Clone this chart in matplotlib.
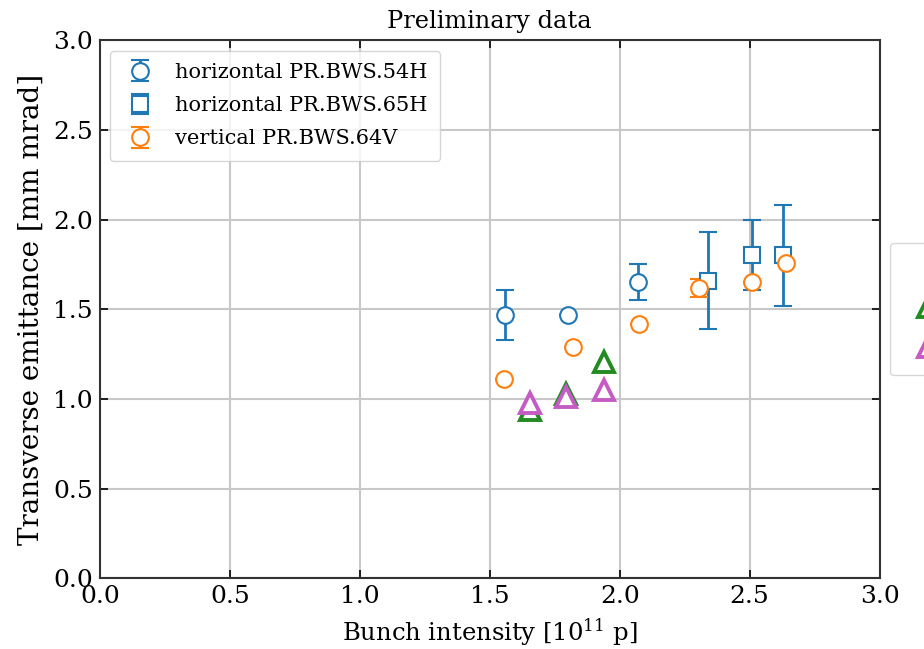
import matplotlib
matplotlib.use('Agg')
import matplotlib.pyplot as plt

plt.rcParams['font.family'] = 'DejaVu Serif'
plt.rcParams['mathtext.fontset'] = 'dejavuserif'
plt.rcParams['font.size'] = 15

# horizontal PR.BWS.54H
x_54h = [1.56, 1.80, 2.07]
eps_54h = [1.47, 1.47, 1.65]
err_54h = [0.14, 0.0, 0.10]

# horizontal PR.BWS.65H
x_65h = [2.34, 2.51, 2.63]
eps_65h = [1.66, 1.80, 1.80]
err_65h = [0.27, 0.195, 0.28]

# vertical PR.BWS.64V
x_64v = [1.555, 1.82, 2.075, 2.305, 2.51, 2.64]
eps_64v = [1.11, 1.29, 1.415, 1.62, 1.65, 1.76]
err_64v = [0.0, 0.0, 0.0, 0.05, 0.0, 0.0]

# triangles (their legend sits outside the frame)
x_tri = [1.655, 1.795, 1.94]
eps_green = [0.94, 1.03, 1.205]
eps_magenta = [0.98, 1.01, 1.05]

blue = '#1f77b4'
orange = '#ff7f0e'

fig = plt.figure(figsize=(9.24, 6.49), dpi=100)
ax = fig.add_axes([0.108, 0.109, 0.844, 0.829])

ax.errorbar(x_54h, eps_54h, yerr=err_54h, fmt='o', color=blue, mfc='white',
            ms=12, mew=1.5, elinewidth=2, capsize=6.5, capthick=2,
            label='horizontal PR.BWS.54H')
ax.errorbar(x_65h, eps_65h, yerr=err_65h, fmt='s', color=blue, mfc='white',
            ms=12, mew=1.5, elinewidth=2, capsize=6.5, capthick=2,
            label='horizontal PR.BWS.65H')
ax.errorbar(x_64v, eps_64v, yerr=err_64v, fmt='o', color=orange, mfc='white',
            ms=12, mew=1.5, elinewidth=2, capsize=6.5, capthick=2,
            label='vertical PR.BWS.64V')

l1, = ax.plot(x_tri, eps_green, '^', color='#228b22', mfc='white', ms=15, mew=2.8)
l2, = ax.plot(x_tri, eps_magenta, '^', color='#c45cc4', mfc='white', ms=15, mew=2.8)

ax.set_xlim(0, 3)
ax.set_ylim(0, 3)
ax.set_xticks([0, 0.5, 1.0, 1.5, 2.0, 2.5, 3.0])
ax.set_yticks([0, 0.5, 1.0, 1.5, 2.0, 2.5, 3.0])
ax.tick_params(direction='in', length=6, width=1.2, top=True, right=True,
               labelsize=18, pad=5)
ax.grid(True, color='#c8c8c8', linewidth=1.5)
ax.set_axisbelow(True)
for s in ax.spines.values():
    s.set_color('#333333')
    s.set_linewidth(1.5)

ax.set_xlabel('Bunch intensity [10$^{11}$ p]', fontsize=17.5, labelpad=6)
ax.set_ylabel('Transverse emittance [mm mrad]', fontsize=20, labelpad=6)
ax.set_title('Preliminary data', fontsize=17.4, pad=9)

handles, labels = ax.get_legend_handles_labels()
leg1 = ax.legend(handles, labels, loc='upper left', fontsize=15,
                 labelspacing=0.68, borderpad=0.6, handlelength=1.7)
ax.add_artist(leg1)
ax.legend([l1, l2], ['horizontal', 'vertical'], title='Model',
          loc='center left', bbox_to_anchor=(1.0, 0.5), fontsize=15,
          labelspacing=1.0, borderpad=0.8)

fig.savefig('out.png', dpi=100)
